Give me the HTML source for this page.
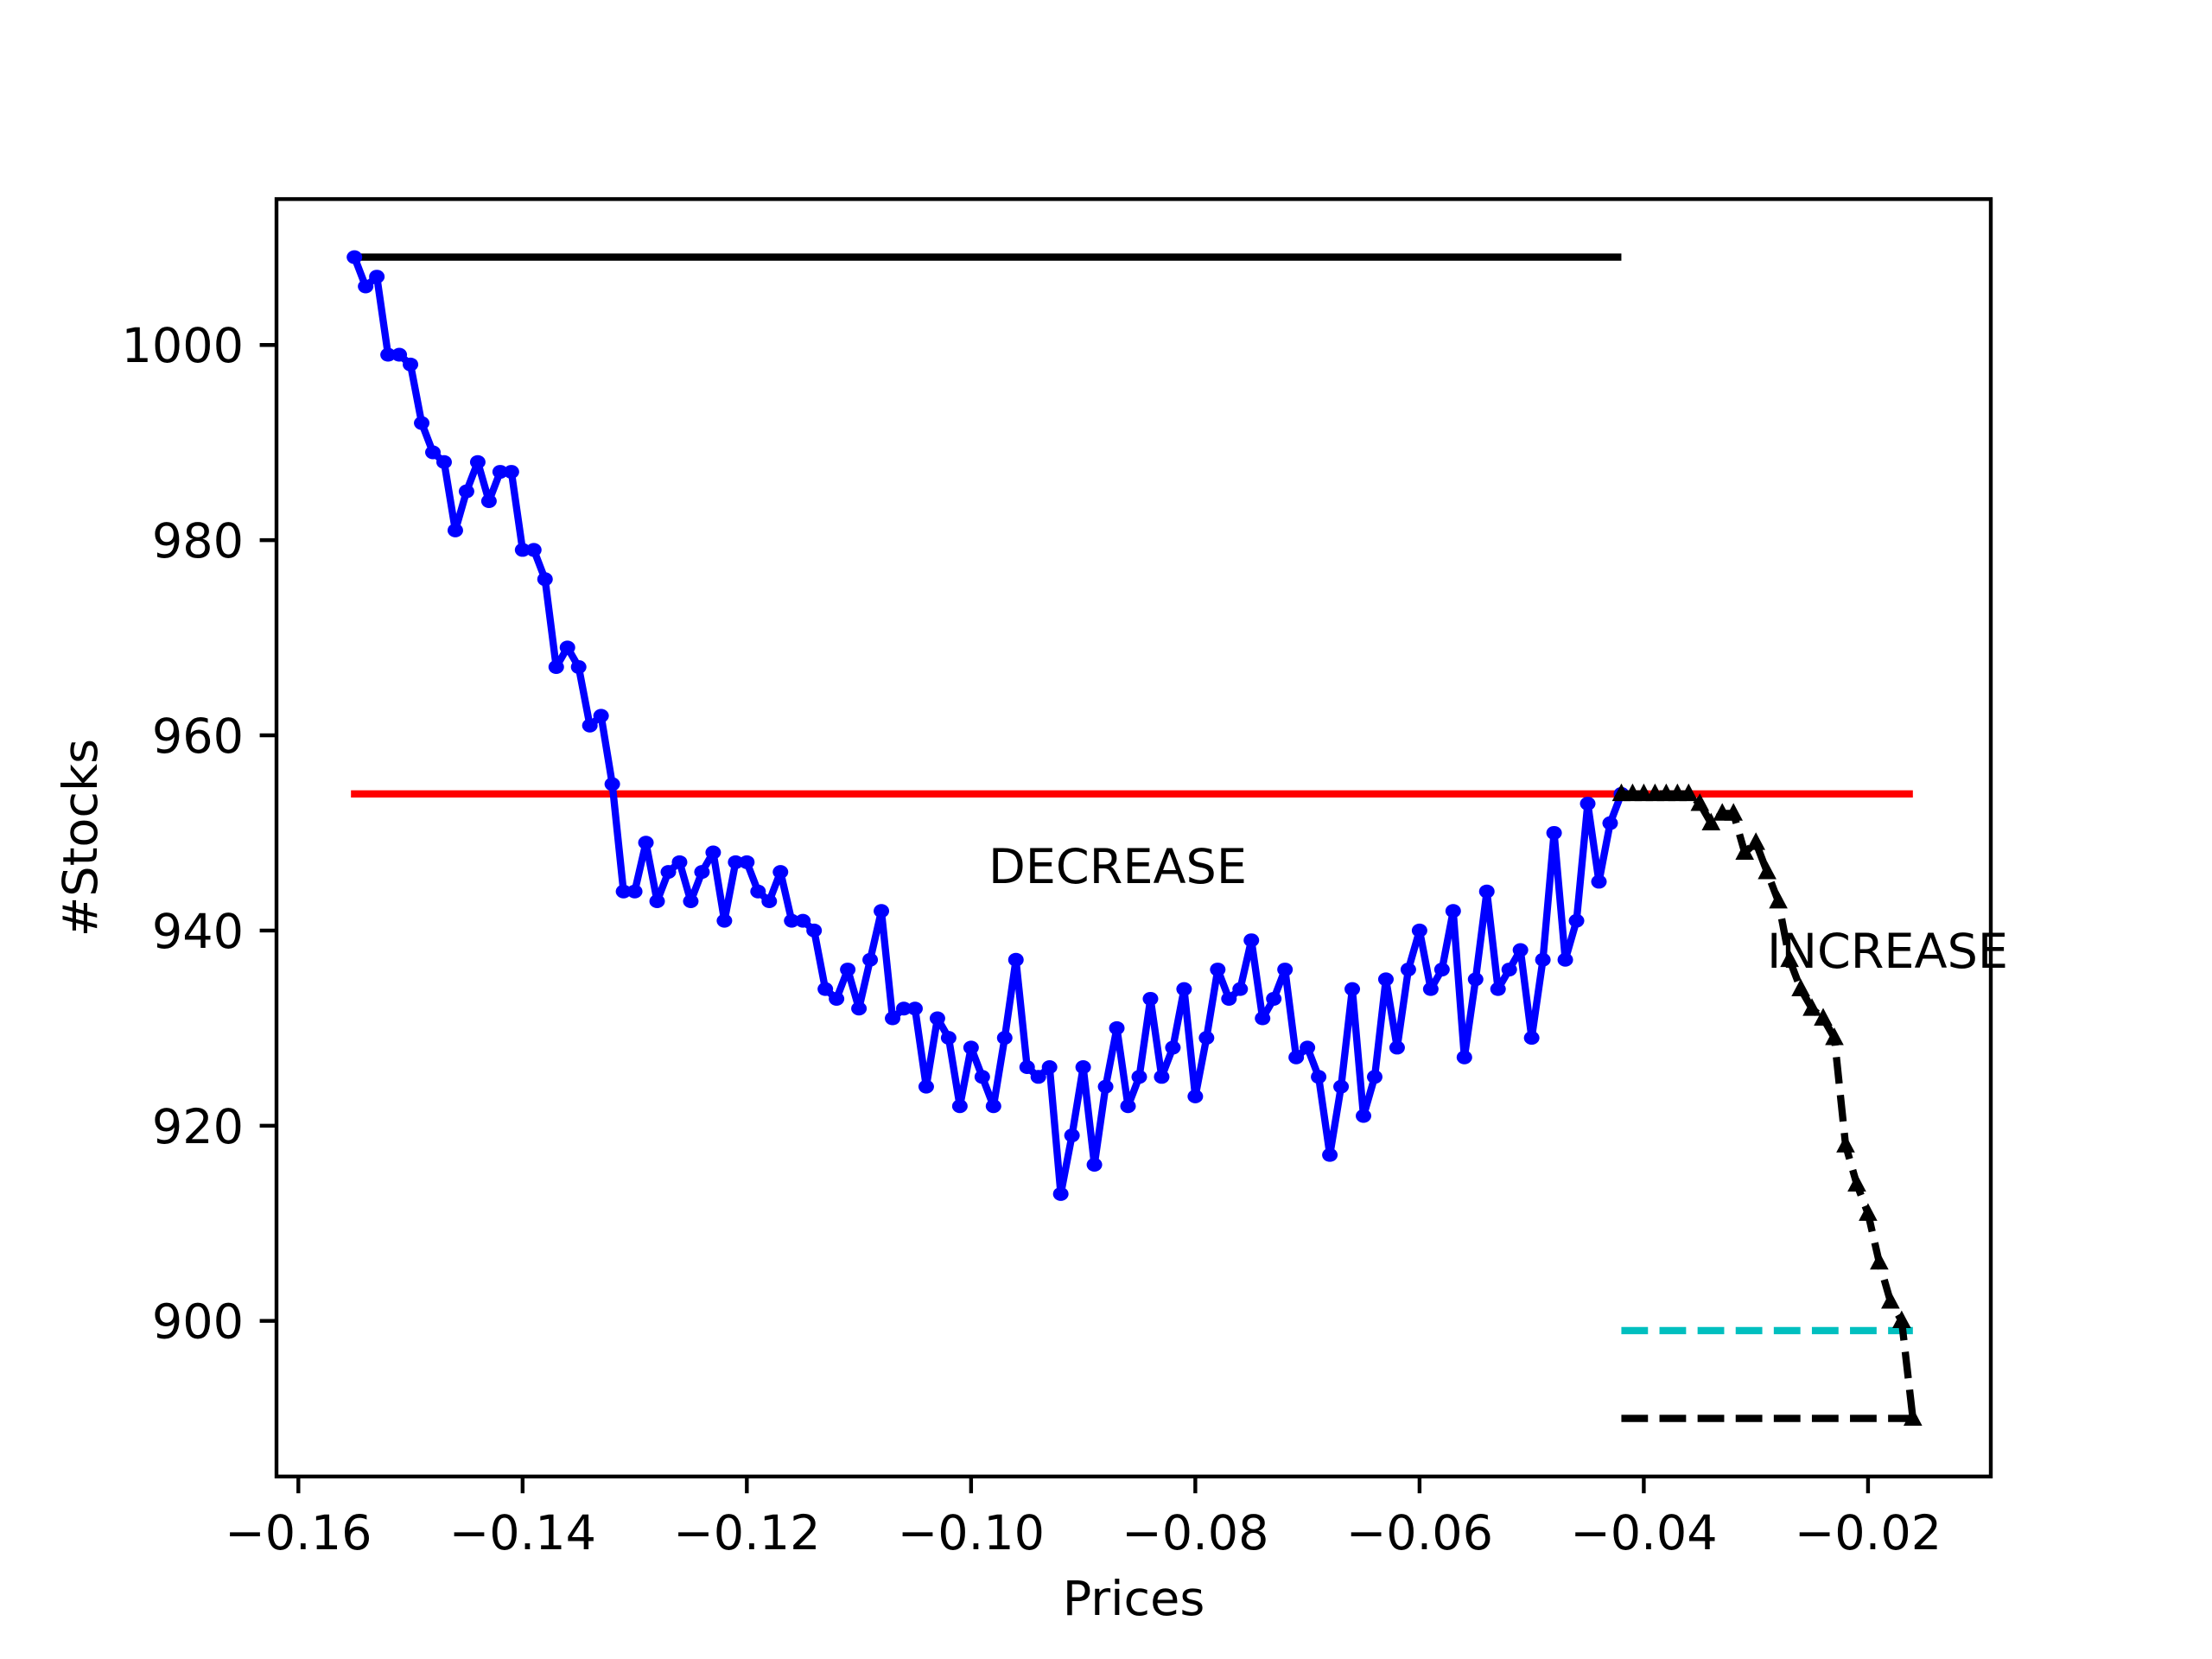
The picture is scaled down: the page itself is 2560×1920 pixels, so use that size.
<!DOCTYPE html>
<html><head><meta charset="utf-8">
<style>
html,body{margin:0;padding:0;background:#fff;}
svg{display:block;}
text{font-family:"DejaVu Sans","Liberation Sans",sans-serif;fill:#000;}
</style></head>
<body>
<svg id="chart" width="2560" height="1920" viewBox="0 0 2560 1920" xmlns="http://www.w3.org/2000/svg">
<rect x="0" y="0" width="2560" height="1920" fill="#fff"/>
<g id="plot"></g>
</svg>
<script>
const blueStart = -0.155;
const blueValues = [1009,1006,1007,999,999,998,992,989,988,981,
985,988,984,987,987,979,979,976,967,969,
967,961,962,955,944,944,949,943,946,947,
943,946,948,941,947,947,944,943,946,941,
941,940,934,933,936,932,937,942,931,932,
932,924,931,929,922,928,925,922,929,937,
926,925,926,913,919,926,916,924,930,922,
925,933,925,928,934,923,929,936,933,934,
939,931,933,936,927,928,925,917,924,934,
921,925,935,928,936,940,934,936,942,927,
935,944,934,936,938,929,937,950,937,941,
953,945,951,954];
const blackStart = -0.042;
const blackValues = [954,954,954,954,954,954,954,953,951,952,952,948,949,946,943,937,934,932,931,929,918,914,911,906,902,900,890];
const topLevel = 1009;
const redLevel = 954;
const cyanLevel = 899;
const bottomLevel = 890;
const xTicks = [-0.16,-0.14,-0.12,-0.10,-0.08,-0.06,-0.04,-0.02];
const xTickLabels = ["\u22120.16","\u22120.14","\u22120.12","\u22120.10","\u22120.08","\u22120.06","\u22120.04","\u22120.02"];
const yTicks = [900,920,940,960,980,1000];
const yTickLabels = ["900","920","940","960","980","1000"];

const L=320,R=2304,T=230.4,B=1708.8;
const STEP=0.001;
const bx = blueValues.map((v,i)=>blueStart+i*STEP);
const kx = blackValues.map((v,i)=>blackStart+i*STEP);
const allX = bx.concat(kx), allY = blueValues.concat(blackValues,[topLevel,redLevel,cyanLevel,bottomLevel]);
let xmin=Math.min(...allX), xmax=Math.max(...allX); let xm=(xmax-xmin)*0.05; xmin-=xm; xmax+=xm;
let ymin=Math.min(...allY), ymax=Math.max(...allY); let ym=(ymax-ymin)*0.05; ymin-=ym; ymax+=ym;
const X=v=>L+(v-xmin)/(xmax-xmin)*(R-L);
const Y=v=>B-(v-ymin)/(ymax-ymin)*(B-T);
const NS="http://www.w3.org/2000/svg";
const g=document.getElementById('plot');
function mk(tag,attrs,parent){const e=document.createElementNS(NS,tag);for(const k in attrs)e.setAttribute(k,attrs[k]);(parent||g).appendChild(e);return e;}
const LW=8.33, DASH="30.8,13.3";

let e;
e=mk('line',{x1:X(bx[0]),x2:X(bx[bx.length-1]),y1:Y(topLevel),y2:Y(topLevel),stroke:'#000','stroke-width':LW});


e=mk('line',{x1:X(bx[0])-4,x2:X(kx[kx.length-1]),y1:Y(redLevel),y2:Y(redLevel),stroke:'#ff0000','stroke-width':LW});


e=mk('line',{x1:X(kx[0]),x2:X(kx[kx.length-1]),y1:Y(cyanLevel),y2:Y(cyanLevel),stroke:'#00bfbf','stroke-width':LW,'stroke-dasharray':DASH});


e=mk('line',{x1:X(kx[0]),x2:X(kx[kx.length-1]),y1:Y(bottomLevel),y2:Y(bottomLevel),stroke:'#000','stroke-width':LW,'stroke-dasharray':DASH});



e=mk('polyline',{points:blueValues.map((v,i)=>X(bx[i])+','+Y(v)).join(' '),fill:'none',stroke:'#0000ff','stroke-width':LW,'stroke-linejoin':'round'});


blueValues.forEach((v,i)=>{
  const c=mk('ellipse',{cx:X(bx[i]),cy:Y(v),rx:9,ry:8,fill:'#0000ff'});
  
  
});
e=mk('polyline',{points:blackValues.map((v,i)=>X(kx[i])+','+Y(v)).join(' '),fill:'none',stroke:'#000','stroke-width':LW,'stroke-dasharray':DASH});


blackValues.forEach((v,i)=>{
  const cx=X(kx[i]),cy=Y(v),s=12;
  const p=mk('polygon',{points:`${cx},${cy-s} ${cx-s*0.9},${cy+s*0.7} ${cx+s*0.9},${cy+s*0.7}`,fill:'#000'});
  
  
});

e=mk('rect',{x:L,y:T,width:R-L,height:B-T,fill:'none',stroke:'#000','stroke-width':4.4});



xTicks.forEach((t,i)=>{
  const x=X(t);
  const l=mk('line',{x1:x,x2:x,y1:B,y2:B+19.4,stroke:'#000','stroke-width':4.4});
  
  
  const tx=mk('text',{x:x,y:1793,'text-anchor':'middle','font-size':55.6});
  tx.textContent=xTickLabels[i];
  
  
});
yTicks.forEach((t,i)=>{
  const y=Y(t);
  const l=mk('line',{x1:L-19.4,x2:L,y1:y,y2:y,stroke:'#000','stroke-width':4.4});
  
  
  const tx=mk('text',{x:L-38,y:y+20,'text-anchor':'end','font-size':55.6});
  tx.textContent=yTickLabels[i];
  
  
});

e=mk('text',{x:(L+R)/2,y:1869,'text-anchor':'middle','font-size':55.6});
e.textContent='Prices';


e=mk('text',{x:112,y:(T+B)/2,'text-anchor':'middle','font-size':55.6,transform:`rotate(-90 112 ${(T+B)/2})`});
e.textContent='#Stocks';


e=mk('text',{x:1144,y:1022,'font-size':55.6});
e.textContent='DECREASE';


e=mk('text',{x:2045,y:1120,'font-size':55.6});
e.textContent='INCREASE';


</script>
</body></html>
